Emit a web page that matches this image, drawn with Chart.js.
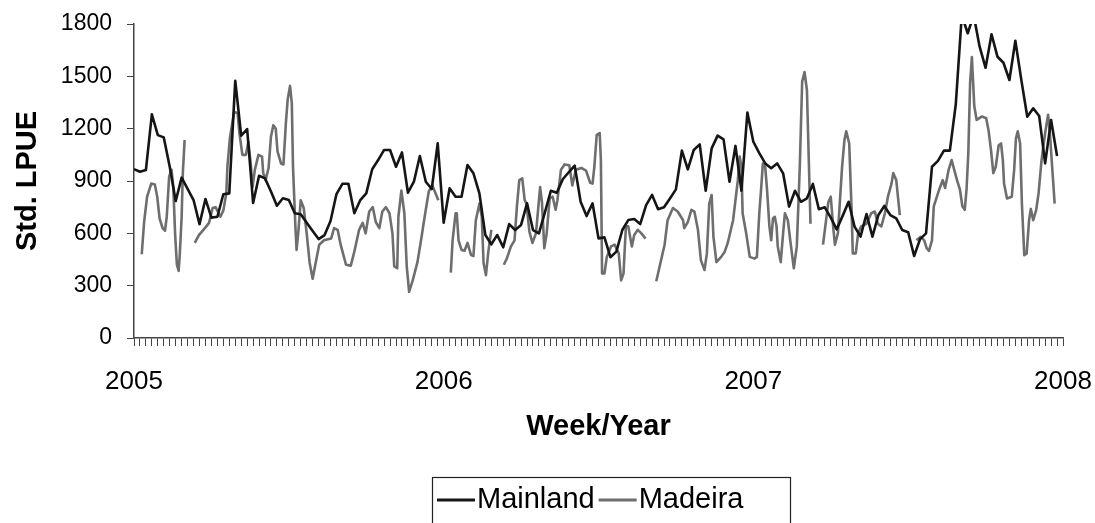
<!DOCTYPE html>
<html>
<head>
<meta charset="utf-8">
<title>Std. LPUE by week</title>
<script src="https://cdn.jsdelivr.net/npm/chart.js@4.4.1/dist/chart.umd.min.js"></script>
<style>
  body { margin: 0; background: #fff; }
  #wrap { width: 1095px; height: 523px; }
</style>
</head>
<body>
<div id="wrap"><canvas id="lpue-chart" width="1095" height="523"></canvas></div>
<script>
// years on the x axis, one tick per week
const years = [2005, 2006, 2007, 2008];
const weeksPerYear = 52;
const yTicks = [0, 300, 600, 900, 1200, 1500, 1800];

// Mainland: one value per week, starting at week 0 of 2005
const mainlandLpue = [
  968, 953, 963, 1282, 1163, 1150, 982, 785, 919, 855, 791, 653, 797, 690, 695, 824, 829, 1475, 1160, 1198,
  774, 930, 915, 840, 758, 801, 791, 715, 709, 660, 613, 567, 590, 671, 825, 884, 884, 715, 791, 829,
  967, 1020, 1078, 1078, 982, 1064, 833, 896, 1043, 896, 854, 1116, 661, 858, 810, 810, 992, 944, 829, 590,
  537, 590, 520, 653, 619, 648, 772, 619, 600, 720, 844, 833, 910, 950, 988, 781, 699, 772, 571, 577,
  463, 495, 619, 676, 682, 653, 762, 820, 738, 749, 800, 852, 1074, 967, 1078, 1110, 844, 1087, 1160, 1139,
  896, 1101, 844, 1292, 1125, 1060, 1001, 973, 1001, 944, 753, 844, 781, 801, 883, 738, 749, 690, 623, 700,
  781, 638, 581, 711, 581, 705, 757, 705, 686, 619, 606, 470, 567, 600, 982, 1015, 1074, 1074, 1341, 1850,
  1747, 1850, 1670, 1549, 1741, 1612, 1578, 1479, 1704, 1480, 1268, 1317, 1273, 1001, 1250, 1043
];

// Madeira: sampled more often, so week positions are kept with the values (null = no data)
const madeiraWeek = [
  1.3, 1.7, 2.2, 2.9, 3.5, 3.9, 4.3, 4.8, 5.2, 5.5, 5.9, 6.3, 6.6, 6.9, 7.2, 7.5, 7.7, 8.0, 8.2, 8.5, 9.3,
  10.2, 10.9, 11.9, 12.6, 13.2, 13.7, 14.5, 15.0, 15.5, 15.7, 16.1, 16.5, 16.8, 17.4, 17.7, 18.2, 18.8, 19.2, 19.6, 19.9,
  20.3, 20.9, 21.5, 21.7, 22.1, 22.6, 23.0, 23.4, 23.8, 24.1, 24.7, 25.1, 25.5, 25.8, 26.2, 26.5, 26.7, 27.1, 27.3, 27.6,
  28.0, 28.5, 29.0, 29.5, 30.0, 30.5, 31.1, 31.9, 33.1, 33.6, 34.2, 34.7, 35.6, 36.4, 37.0, 37.8, 38.4, 38.9, 39.5, 40.1,
  40.6, 41.2, 41.7, 42.3, 42.9, 43.4, 43.7, 44.2, 44.4, 44.9, 45.4, 45.8, 46.2, 46.8, 47.6, 48.2, 48.9, 49.5, 50.1, 51.1, 52.0,
  53.2, 53.5, 54.0, 54.2, 54.5, 55.0, 55.5, 56.0, 56.6, 57.0, 57.4, 58.0, 58.4, 58.7, 59.1, 59.5, 60.0, 61.0,
  62.1, 62.6, 63.3, 63.9, 64.3, 64.7, 65.2, 65.6, 65.9, 66.4, 66.9, 67.5, 68.0, 68.2, 68.5, 68.9, 69.3, 69.8, 70.3, 70.8,
  71.1, 71.7, 72.3, 73.1, 73.6, 74.2, 75.1, 75.9, 76.6, 77.0, 77.3, 77.7, 78.2, 78.4, 78.6, 79.0, 79.4, 80.1, 80.7, 81.4,
  81.8, 82.2, 82.6, 83.0, 83.6, 84.0, 84.6, 85.2, 85.9, 86.8,
  87.7, 88.4, 89.1, 89.6, 90.5, 91.3, 92.2, 92.4, 93.0, 93.6, 94.1, 94.7, 95.2, 95.8, 96.2, 96.6, 97.0, 97.3, 97.8, 98.6,
  99.2, 99.7, 100.6, 101.4, 101.7, 102.0, 102.2, 102.8, 103.4, 104.2, 104.6, 105.0, 105.3, 105.6, 106.0, 106.3, 106.7, 107.0, 107.3, 107.6,
  107.9, 108.1, 108.6, 109.0, 109.3, 109.8, 110.2, 110.8, 111.3, 111.8, 112.2, 112.6, 113.0, 113.6, 114.6,
  115.7, 116.6, 117.0, 117.4, 117.7, 118.2, 118.9, 119.3, 119.6, 120.1, 120.5, 120.7, 121.2, 121.6, 122.1, 123.0, 123.8, 124.4, 124.9, 125.5,
  126.1, 126.6, 127.2, 127.5, 128.0, 128.6, 130.0,
  131.4, 132.1, 132.7, 133.1, 133.5, 134.0, 134.3, 135.2, 135.8, 136.2, 136.8, 137.3, 138.2, 138.7, 139.1, 139.5, 139.8, 140.1, 140.4, 140.7,
  141.1, 141.5, 142.4, 143.1, 143.5, 143.9, 144.3, 144.7, 145.2, 145.6, 145.9, 146.1, 146.6, 147.4, 147.8, 148.1, 148.4, 148.8, 149.1, 149.5,
  149.9, 150.3, 150.6, 151.0, 151.5, 151.9, 152.4, 153.0, 153.5, 153.8, 154.1, 154.6
];
const madeiraLpue = [
  480, 665, 810, 885, 880, 810, 685, 630, 615, 695, 925, 965, 865, 600, 420, 385, 485, 695, 945, 1135, null,
  545, 590, 630, 660, 745, 750, 695, 730, 830, 990, 1145, 1230, 1295, 1290, 1175, 1050, 1050, 1125, 1000, 865,
  965, 1050, 1040, 945, 905, 975, 1155, 1220, 1200, 1070, 1000, 995, 1230, 1365, 1445, 1345, 980, 640, 505, 610,
  790, 745, 600, 430, 340, 430, 535, 560, 570, 630, 620, 535, 420, 415, 495, 620, 660, 600, 725, 750,
  665, 630, 725, 750, 715, 600, 410, 400, 695, 845, 715, 410, 265, 330, 435, 560, 715, 840, 875, 790, null,
  375, 560, 715, 715, 560, 505, 500, 545, 475, 470, 675, 770, 695, 430, 360, 495, 620, null,
  420, 455, 525, 560, 755, 905, 915, 790, 770, 610, 545, 600, 790, 865, 780, 515, 600, 800, 810, 735,
  790, 965, 995, 990, 875, 965, 975, 960, 890, 885, 980, 1165, 1175, 1020, 370, 370, 465, 525, 535, 485,
  330, 370, 640, 640, 525, 590, 620, 600, 570, null,
  325, 430, 535, 675, 745, 725, 675, 630, 665, 735, 725, 620, 445, 390, 485, 770, 820, 580, 435, 465,
  495, 545, 675, 905, 1040, 980, 715, 600, 465, 455, 465, 715, 850, 1000, 980, 850, 640, 560, 685, 695,
  640, 525, 435, 600, 715, 675, 560, 400, 525, 980, 1470, 1525, 1420, 655, null,
  535, 780, 810, 640, 535, 600, 980, 1135, 1185, 1115, 735, 485, 485, 600, 640, 655, 715, 725, 655, 640,
  715, 810, 885, 945, 905, 705, null,
  560, 580, 560, 515, 500, 560, 755, 850, 905, 860, 965, 1020, 905, 850, 755, 735, 850, 1060, 1460, 1610,
  1330, 1250, 1270, 1260, 1190, 1080, 945, 980, 1105, 1115, 1020, 885, 800, 810, 965, 1145, 1185, 1115, 770, 475,
  485, 675, 740, 675, 735, 830, 1020, 1175, 1280, 1175, 1020, 770
];

const fontFamily = "'Liberation Sans', Arial, sans-serif";
Chart.defaults.font.family = fontFamily;
Chart.defaults.color = '#000';

// framed legend under the axis title, drawn from the dataset labels and colours
const legendFont = '29px ' + fontFamily;
const legendFrame = {
  id: 'legendFrame',
  afterDraw(chart) {
    const ctx = chart.ctx;
    const sample = 38;
    let x = 437;
    const y = 500;
    ctx.save();
    ctx.font = legendFont;
    ctx.textBaseline = 'middle';
    ctx.textAlign = 'left';
    chart.data.datasets.forEach((ds) => {
      ctx.strokeStyle = ds.borderColor;
      ctx.lineWidth = 3;
      ctx.beginPath();
      ctx.moveTo(x, y);
      ctx.lineTo(x + sample, y);
      ctx.stroke();
      ctx.fillStyle = '#000';
      ctx.fillText(ds.label, x + sample + 2, y);
      x += sample + 2 + ctx.measureText(ds.label).width + 4;
    });
    ctx.strokeStyle = '#222';
    ctx.lineWidth = 1.2;
    ctx.strokeRect(432.5, 477.5, 358, 80);
    ctx.restore();
  }
};

const mainlandData = mainlandLpue.map((v, i) => ({x: i, y: v}));
const madeiraData = madeiraWeek.map((w, i) => ({x: w, y: madeiraLpue[i]}));

const ctx = document.getElementById('lpue-chart').getContext('2d');
const lpueChart = new Chart(ctx, {
  type: 'line',
  data: {
    datasets: [
      {
        label: 'Mainland',
        data: mainlandData,
        borderColor: '#151515',
        borderWidth: 2.6,
        pointRadius: 0,
        tension: 0,
        borderJoinStyle: 'round'
      },
      {
        label: 'Madeira',
        data: madeiraData,
        borderColor: '#6e6e6e',
        borderWidth: 2.6,
        pointRadius: 0,
        tension: 0,
        spanGaps: false,
        borderJoinStyle: 'round'
      }
    ]
  },
  options: {
    responsive: false,
    animation: false,
    layout: { padding: { top: 24, right: 0, left: 0, bottom: 49 } },
    plugins: {
      tooltip: { enabled: false },
      legend: { display: false }
    },
    scales: {
      x: {
        type: 'linear',
        min: 0,
        max: weeksPerYear * (years.length - 1),
        afterFit(scale) {
          scale.height = 136;
          scale.paddingLeft = 0;
          scale.paddingRight = 32;
        },
        grid: { drawOnChartArea: false, tickLength: 8, color: '#444', lineWidth: 1 },
        border: { color: '#444', width: 1.5 },
        ticks: {
          stepSize: 1,
          autoSkip: false,
          maxRotation: 0,
          minRotation: 0,
          padding: 20,
          color: '#000',
          font: { size: 26 },
          callback: (v) => (v % weeksPerYear === 0 ? String(years[v / weeksPerYear]) : '')
        },
        title: {
          display: true,
          text: 'Week/Year',
          color: '#000',
          font: { size: 29, weight: 'bold' },
          padding: { top: 0, bottom: 30 }
        }
      },
      y: {
        min: yTicks[0],
        max: yTicks[yTicks.length - 1],
        afterFit(scale) {
          scale.width = 134;
          scale.paddingTop = 0;
          scale.paddingBottom = 0;
        },
        grid: { drawOnChartArea: false, tickLength: 7, color: '#444' },
        border: { color: '#444', width: 1.5 },
        ticks: {
          stepSize: yTicks[1] - yTicks[0],
          padding: 15,
          color: '#000',
          font: { size: 23 },
          callback: (v) => String(v)
        },
        title: {
          display: true,
          text: 'Std. LPUE',
          color: '#000',
          font: { size: 29, weight: 'bold' },
          padding: { top: 11, bottom: 0 }
        }
      }
    }
  },
  plugins: [legendFrame]
});
</script>
</body>
</html>
